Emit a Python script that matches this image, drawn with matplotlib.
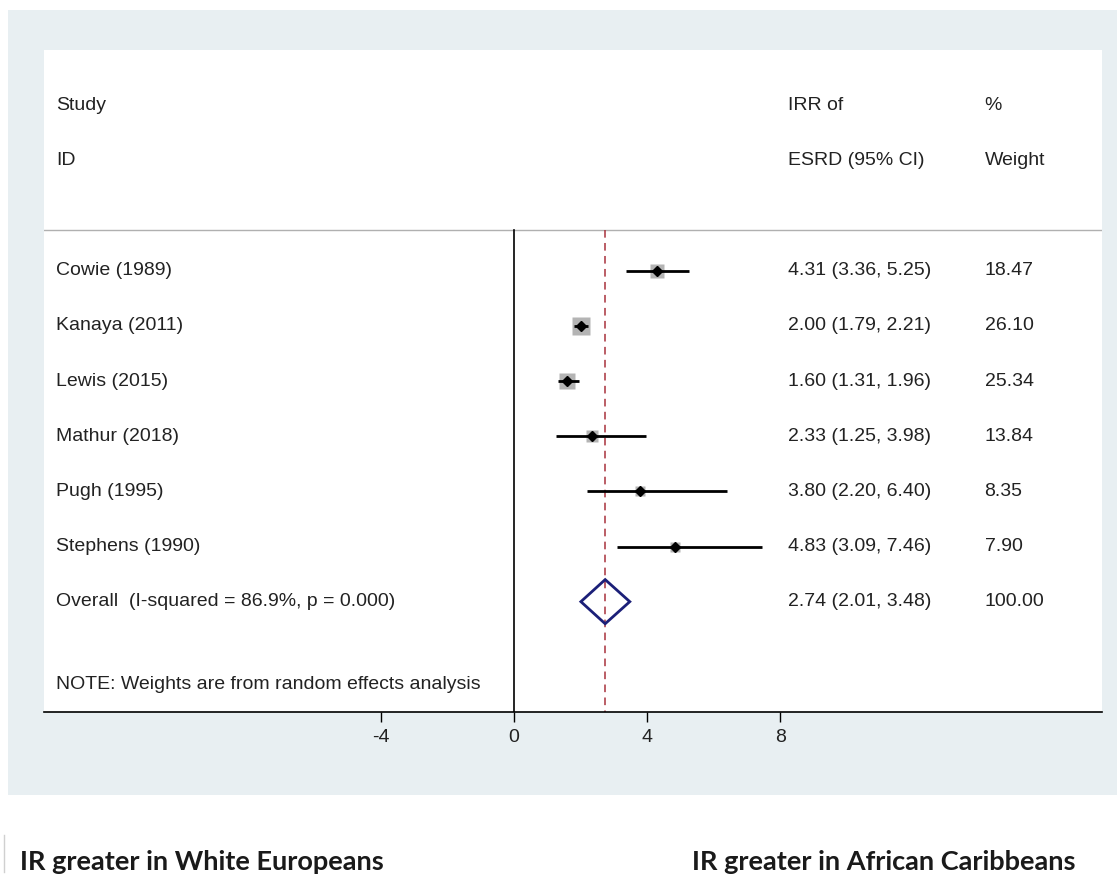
import numpy as np
import matplotlib.pyplot as plt
from matplotlib.patches import Rectangle, Polygon
from matplotlib.lines import Line2D
import matplotlib.transforms as mtransforms

# data
studies = ["Cowie (1989)", "Kanaya (2011)", "Lewis (2015)",
           "Mathur (2018)", "Pugh (1995)", "Stephens (1990)"]
irr = [4.31, 2.00, 1.60, 2.33, 3.80, 4.83]
lower = [3.36, 1.79, 1.31, 1.25, 2.20, 3.09]
upper = [5.25, 2.21, 1.96, 3.98, 6.40, 7.46]
weight = [18.47, 26.10, 25.34, 13.84, 8.35, 7.90]
overall_est, overall_lo, overall_hi = 2.74, 2.01, 3.48
overall_label = "Overall  (I-squared = 86.9%, p = 0.000)"
overall_weight = "100.00"
xticks = [-4, 0, 4, 8]

W, H = 1117, 875
plt.rcParams["font.family"] = ["Liberation Sans", "DejaVu Sans"]
txt_color = "#222222"
fs = 14

fig = plt.figure(figsize=(W / 100, H / 100), dpi=100)
fig.patch.set_facecolor("white")

# light grey-blue graph region
fig.patches.append(Rectangle((8 / W, (H - 795) / H), (W - 8) / W, (795 - 10) / H,
                             transform=fig.transFigure, facecolor="#e8eff2",
                             edgecolor="none", zorder=-5))
fig.add_artist(Line2D([4 / W, 4 / W], [(H - 872) / H, (H - 835) / H],
                      color="#d0d0d0", lw=1))

ax = fig.add_axes([44 / W, (H - 712) / H, 1058 / W, 662 / H])
ax.set_zorder(2)
ax.set_facecolor("white")
ax.set_xlim(-14.135, 17.68)
ax.set_ylim(8.0, -4.0)
for s in ["top", "left", "right"]:
    ax.spines[s].set_visible(False)
ax.spines["bottom"].set_linewidth(1.2)
ax.set_yticks([])
ax.set_xticks(xticks)
ax.set_xticklabels([str(t) for t in xticks])
ax.tick_params(axis="x", length=7.5, width=1, pad=5, labelsize=fs, labelcolor=txt_color)

header_y = -0.73
ax.axhline(header_y, color="#b0b0b0", lw=1)
ax.plot([0, 0], [header_y, 8.0], color="black", lw=1.2)
ax.plot([overall_est, overall_est], [header_y, 8.0], color="#a8323c", lw=1.1,
        ls=(0, (5, 3.5)))

rows = np.arange(len(studies))
box_sizes = 2.4 * np.sqrt(weight)
for y, e, lo, hi, bs in zip(rows, irr, lower, upper, box_sizes):
    ax.plot(e, y, marker="s", ms=bs, color="#b4b4b4", mec="none", zorder=2)
    ax.plot([lo, hi], [y, y], color="black", lw=2, zorder=3, solid_capstyle="butt")
    ax.plot(e, y, marker="D", ms=5, color="black", zorder=4)

oy = len(studies)
dh = 0.4
ax.add_patch(Polygon([[overall_lo, oy], [overall_est, oy - dh], [overall_hi, oy],
                      [overall_est, oy + dh]], closed=True, fill=False,
                     edgecolor="#1b1f78", lw=2, zorder=4))

# text columns
tr = mtransforms.blended_transform_factory(ax.transAxes, ax.transData)
cx_study, cx_irr, cx_w = 0.0113, 0.703, 0.889
ax.text(cx_study, -3, "Study", transform=tr, va="center", fontsize=fs, color=txt_color)
ax.text(cx_study, -2, "ID", transform=tr, va="center", fontsize=fs, color=txt_color)
ax.text(cx_irr, -3, "IRR of", transform=tr, va="center", fontsize=fs, color=txt_color)
ax.text(cx_irr, -2, "ESRD (95% CI)", transform=tr, va="center", fontsize=fs, color=txt_color)
ax.text(cx_w, -3, "%", transform=tr, va="center", fontsize=fs, color=txt_color)
ax.text(cx_w, -2, "Weight", transform=tr, va="center", fontsize=fs, color=txt_color)

for y, name, e, lo, hi, w in zip(rows, studies, irr, lower, upper, weight):
    ax.text(cx_study, y, name, transform=tr, va="center", fontsize=fs, color=txt_color)
    ax.text(cx_irr, y, f"{e:.2f} ({lo:.2f}, {hi:.2f})", transform=tr, va="center",
            fontsize=fs, color=txt_color)
    ax.text(cx_w, y, f"{w:.2f}", transform=tr, va="center", fontsize=fs, color=txt_color)

ax.text(cx_study, oy, overall_label, transform=tr, va="center", fontsize=fs, color=txt_color)
ax.text(cx_irr, oy, f"{overall_est:.2f} ({overall_lo:.2f}, {overall_hi:.2f})",
        transform=tr, va="center", fontsize=fs, color=txt_color)
ax.text(cx_w, oy, overall_weight, transform=tr, va="center", fontsize=fs, color=txt_color)
ax.text(cx_study, 7.5, "NOTE: Weights are from random effects analysis", transform=tr,
        va="center", fontsize=fs, color=txt_color)

# direction labels under the graph
fig.text(20 / W, (H - 862) / H, "IR greater in White Europeans", fontsize=19.5,
         fontweight="bold", family=["Lato", "DejaVu Sans"], color="#1a1a1a", va="center")
fig.text(692 / W, (H - 862) / H, "IR greater in African Caribbeans", fontsize=19.5,
         fontweight="bold", family=["Lato", "DejaVu Sans"], color="#1a1a1a", va="center")

fig.savefig("out.png", dpi=100)
